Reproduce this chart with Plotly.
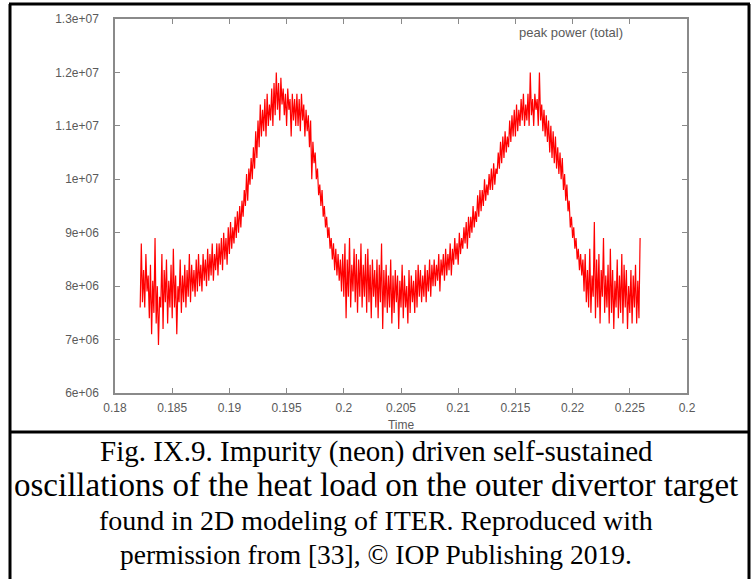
import plotly.graph_objects as go

# ---------------- data ----------------
t_start = 0.1822
t_step = 0.0001
# peak power (total), in units of 1e6
power_mw = [
    7.6, 8.8, 7.7, 8.3, 7.6, 8.6, 7.9, 8.2,
    7.4, 8.4, 7.1, 8.1, 7.5, 8.9, 7.3, 8.0, 6.9, 7.8,
    7.6, 8.6, 7.2, 8.3, 7.7, 8.5, 7.3, 8.1, 7.6, 8.4,
    7.4, 8.7, 7.6, 8.2, 7.1, 8.0, 7.7, 8.5, 7.5, 8.2,
    7.7, 8.4, 7.6, 8.3, 7.8, 8.6, 7.7, 8.4, 7.9, 8.3,
    7.8, 8.5, 7.9, 8.6, 8.0, 8.4, 7.9, 8.6, 8.1, 8.5,
    8.0, 8.7, 8.1, 8.6, 8.2, 8.8, 8.1, 8.6, 8.3, 8.8,
    8.2, 8.8, 8.4, 8.9, 8.3, 9.0, 8.5, 8.9, 8.4, 9.1,
    8.6, 9.2, 8.7, 9.1, 8.8, 9.3, 8.9, 9.4, 9.0, 9.5,
    9.1, 9.6, 9.3, 9.8, 9.5, 10.1, 9.6, 10.2, 9.9, 10.4,
    10.0, 10.6, 10.2, 10.9, 10.4, 11.1, 10.6, 11.4, 10.8, 11.3,
    10.9, 11.5, 10.8, 11.6, 11.0, 11.4, 11.1, 11.7, 11.0, 11.8,
    11.2, 12.0, 11.3, 11.8, 11.1, 11.9, 11.4, 11.7, 11.2, 11.6,
    11.0, 11.7, 11.3, 11.5, 10.8, 11.6, 11.1, 11.5, 11.0, 11.6,
    11.0, 11.5, 10.9, 11.6, 11.1, 11.4, 10.8, 11.3, 10.9, 11.2,
    10.6, 11.1, 10.0, 10.7, 10.3, 10.5, 10.0, 10.2, 9.7, 9.9,
    9.5, 9.8, 9.3, 9.5, 9.1, 9.3, 8.9, 9.1, 8.7, 8.9,
    8.5, 8.8, 8.3, 8.7, 8.2, 8.6, 8.1, 8.5, 7.9, 8.6,
    7.8, 8.8, 7.4, 8.5, 7.8, 8.9, 7.6, 8.4, 7.9, 8.7,
    7.7, 8.6, 7.5, 8.5, 7.8, 8.8, 7.6, 8.4, 7.8, 8.6,
    7.5, 8.7, 7.7, 8.4, 7.4, 8.5, 7.8, 8.3, 7.6, 8.5,
    7.4, 8.4, 7.7, 8.8, 7.2, 8.3, 7.6, 8.4, 7.5, 8.2,
    7.6, 8.5, 7.3, 8.2, 7.5, 8.3, 7.7, 8.2, 7.2, 8.1,
    7.6, 8.4, 7.4, 8.2, 7.6, 8.0, 7.3, 8.3, 7.5, 8.2,
    7.7, 8.1, 7.5, 8.3, 7.6, 8.4, 7.8, 8.3, 7.7, 8.2,
    7.8, 8.4, 7.7, 8.3, 7.9, 8.5, 7.8, 8.4, 8.0, 8.5,
    8.0, 8.4, 8.1, 8.6, 7.9, 8.5, 8.2, 8.6, 8.1, 8.7,
    8.2, 8.6, 8.3, 8.8, 8.2, 8.7, 8.4, 8.9, 8.5, 8.8,
    8.4, 9.0, 8.6, 8.9, 8.7, 9.1, 8.8, 9.2, 8.7, 9.3,
    8.9, 9.3, 9.0, 9.5, 9.1, 9.4, 9.2, 9.7, 9.3, 9.8,
    9.4, 9.8, 9.5, 10.0, 9.6, 9.9, 9.7, 10.1, 9.8, 10.2,
    9.8, 10.3, 9.9, 10.2, 10.1, 10.5, 10.2, 10.7, 10.3, 10.8,
    10.4, 10.9, 10.5, 10.8, 10.6, 11.1, 10.7, 11.2, 10.8, 11.3,
    10.8, 11.4, 10.9, 11.3, 11.0, 11.5, 11.1, 11.6, 11.0, 11.4,
    11.1, 11.6, 11.0, 12.0, 11.2, 11.5, 11.0, 11.6, 11.3, 11.5,
    11.0, 12.0, 11.1, 11.4, 10.9, 11.3, 10.8, 11.2, 10.7, 11.1,
    10.5, 11.0, 10.4, 10.9, 10.3, 10.8, 10.2, 10.6, 10.1, 10.5,
    10.0, 10.4, 9.8, 10.1, 9.6, 9.9, 9.4, 9.6, 9.1, 9.3,
    8.9, 9.1, 8.7, 8.9, 8.5, 8.7, 8.3, 8.6, 8.2, 8.5,
    7.9, 8.6, 7.7, 8.3, 7.6, 8.7, 7.5, 8.2, 7.8, 9.2,
    7.4, 8.5, 7.6, 8.6, 7.3, 8.3, 7.8, 8.9, 7.5, 8.2,
    7.6, 8.4, 7.3, 8.7, 7.5, 8.3, 7.2, 8.1, 7.6, 8.5,
    7.4, 8.2, 7.5, 8.6, 7.3, 8.4, 7.6, 8.3, 7.2, 8.0,
    7.5, 8.3, 7.3, 8.2, 7.6, 8.4, 7.3, 8.1, 7.4, 8.9,
]
time = [round(t_start + i * t_step, 4) for i in range(len(power_mw))]
power = [v * 1e6 for v in power_mw]

x_tickvals = [0.18, 0.185, 0.19, 0.195, 0.2, 0.205, 0.21, 0.215, 0.22, 0.225, 0.23]
x_ticktext = ["0.18", "0.185", "0.19", "0.195", "0.2", "0.205", "0.21", "0.215",
              "0.22", "0.225", "0.2"]
y_tickvals = [6e6, 7e6, 8e6, 9e6, 1e7, 1.1e7, 1.2e7, 1.3e7]
y_ticktext = ["6e+06", "7e+06", "8e+06", "9e+06", "1e+07", "1.1e+07", "1.2e+07", "1.3e+07"]
legend_label = "peak power (total)"
x_title = "Time"
caption_lines = [
    "Fig. IX.9. Impurity (neon) driven self-sustained",
    "oscillations of the heat load on the outer divertor target",
    "found in 2D modeling of ITER. Reproduced with",
    "permission from [33], \u00a9 IOP Publishing 2019.",
]

# ---------------- layout geometry (pixels) ----------------
W, H = 751, 579
L, R, T, B = 115, 687, 19, 393


def px(xp):
    return (xp - L) / (R - L)


def py(yp):
    return (B - yp) / (B - T)


fig = go.Figure()
fig.add_trace(go.Scatter(
    x=time, y=power, mode="lines",
    line=dict(color="#ff0000", width=1.2),
    showlegend=False, hoverinfo="skip",
))

axis_col = "#8a8a8a"
tick_font = dict(family="Liberation Sans, Arial, sans-serif", size=12, color="#5a5a5a")

fig.update_layout(
    width=W, height=H, autosize=False,
    margin=dict(l=L, r=W - R, t=T, b=H - B, pad=0),
    paper_bgcolor="white", plot_bgcolor="white",
    xaxis=dict(
        range=[0.18, 0.23], tickvals=x_tickvals, ticktext=x_ticktext,
        ticks="inside", ticklen=5, tickcolor=axis_col, tickwidth=1,
        showline=True, linecolor=axis_col, linewidth=1.5, mirror="ticks",
        showgrid=False, zeroline=False, tickfont=tick_font,
        title=dict(text=x_title, font=tick_font, standoff=6),
        ticklabelstandoff=3,
    ),
    yaxis=dict(
        range=[6e6, 1.3e7], tickvals=y_tickvals, ticktext=y_ticktext,
        ticks="inside", ticklen=5, tickcolor=axis_col, tickwidth=1,
        showline=True, linecolor=axis_col, linewidth=1.5, mirror="ticks",
        showgrid=False, zeroline=False, tickfont=tick_font,
        ticklabelstandoff=12,
    ),
)

# outer frame and separator
frame = dict(color="black", width=3)
shapes = [
    dict(type="line", xref="paper", yref="paper", x0=px(10), x1=px(10), y0=py(4), y1=py(H + 5), line=frame),
    dict(type="line", xref="paper", yref="paper", x0=px(749), x1=px(749), y0=py(4), y1=py(H + 5), line=frame),
    dict(type="line", xref="paper", yref="paper", x0=px(9), x1=px(750), y0=py(4), y1=py(4), line=frame),
    dict(type="line", xref="paper", yref="paper", x0=px(9), x1=px(750), y0=py(432), y1=py(432), line=frame),
]
fig.update_layout(shapes=shapes)

# key label
fig.add_annotation(
    x=px(625), y=py(32), xref="paper", yref="paper",
    text=legend_label, showarrow=False, xanchor="right", yanchor="middle",
    font=dict(family="Liberation Sans, Arial, sans-serif", size=13, color="#5a5a5a"),
)

# caption
cap_y = [451, 485, 520, 554]
cap_size = [29, 33, 28, 27.5]
for line, yy, fs in zip(caption_lines, cap_y, cap_size):
    fig.add_annotation(
        x=px(376), y=py(yy), xref="paper", yref="paper",
        text=line, showarrow=False, xanchor="center", yanchor="middle",
        font=dict(family="Liberation Serif, Times New Roman, serif", size=fs, color="black"),
    )

fig.write_html("out.html")
